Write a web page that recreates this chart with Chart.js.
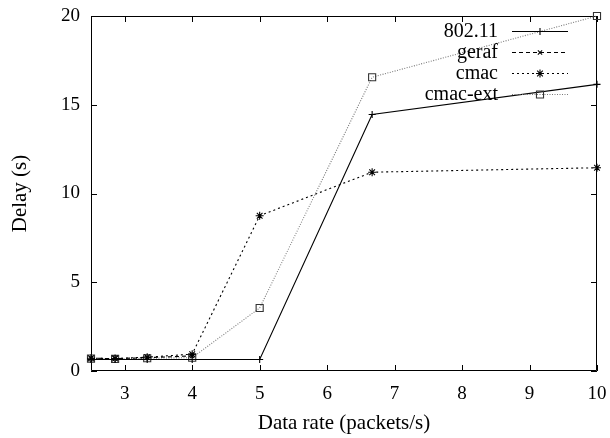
<!DOCTYPE html>
<html>
<head>
<meta charset="utf-8">
<script src="https://cdn.jsdelivr.net/npm/chart.js@4/dist/chart.umd.min.js"></script>
<style>
  html, body { margin: 0; padding: 0; background: #fff; }
</style>
</head>
<body>
<canvas id="c" width="610" height="438"></canvas>
<script>
// Offered load (packets/s) and measured delay (s) per MAC protocol
const dataRates    = [2.5, 2.857, 3.333, 4, 5, 6.667, 10];
const delay80211   = [0.65, 0.65, 0.65, 0.65, 0.65, 14.45, 16.15];
const delayGeraf   = [0.72, 0.7, 0.75, 0.85, null, null, null];
const delayCmac    = [0.72, 0.7, 0.78, 0.95, 8.75, 11.2, 11.45];
const delayCmacExt = [0.7, 0.68, 0.72, 0.75, 3.55, 16.55, 20.0];
const seriesNames  = ['802.11', 'geraf', 'cmac', 'cmac-ext'];
const xTicks = [3, 4, 5, 6, 7, 8, 9, 10];
const yTicks = [0, 5, 10, 15, 20];

const SERIF = '"Liberation Serif", "DejaVu Serif", serif';

function toPoints(values) {
  return values.map((v, i) => ({ x: dataRates[i], y: v }));
}

// Plot frame with inward ticks on all four sides
const framePlugin = {
  id: 'frame',
  beforeDatasetsDraw(chart) {
    const { ctx, chartArea: a, scales: { x, y } } = chart;
    const len = 6;
    ctx.save();
    ctx.strokeStyle = '#000';
    ctx.lineWidth = 1;
    ctx.beginPath();
    ctx.rect(a.left + 0.5, a.top + 0.5, a.right - a.left - 1, a.bottom - a.top - 1);
    xTicks.forEach(v => {
      const px = Math.round(x.getPixelForValue(v)) + 0.5;
      ctx.moveTo(px, a.bottom); ctx.lineTo(px, a.bottom - len);
      ctx.moveTo(px, a.top); ctx.lineTo(px, a.top + len);
    });
    yTicks.forEach(v => {
      const py = Math.round(y.getPixelForValue(v)) + 0.5;
      ctx.moveTo(a.left, py); ctx.lineTo(a.left + len, py);
      ctx.moveTo(a.right, py); ctx.lineTo(a.right - len, py);
    });
    ctx.stroke();
    ctx.restore();
  }
};

// Key in the upper right: right-aligned name, then a line sample with its marker
const keyPlugin = {
  id: 'key',
  afterDraw(chart) {
    const { ctx } = chart;
    const textRight = 498, lineStart = 512, lineEnd = 568, rowTop = 31, rowGap = 21;
    ctx.save();
    chart.data.datasets.forEach((ds, i) => {
      const yy = rowTop + i * rowGap;
      ctx.font = '20px ' + SERIF;
      ctx.fillStyle = '#000';
      ctx.textAlign = 'right';
      ctx.textBaseline = 'middle';
      ctx.fillText(ds.label, textRight, yy + 1);
      ctx.strokeStyle = ds.borderColor;
      ctx.lineWidth = ds.borderWidth;
      ctx.setLineDash(ds.borderDash || []);
      ctx.beginPath();
      ctx.moveTo(lineStart, yy + 0.5);
      ctx.lineTo(lineEnd, yy + 0.5);
      ctx.stroke();
      ctx.setLineDash([]);
      ctx.fillStyle = ds.pointBackgroundColor;
      ctx.strokeStyle = ds.pointBorderColor;
      ctx.lineWidth = ds.pointBorderWidth;
      Chart.helpers.drawPoint(ctx, { pointStyle: ds.pointStyle, radius: ds.pointRadius, rotation: 0, borderWidth: ds.pointBorderWidth }, (lineStart + lineEnd) / 2, yy + 0.5);
    });
    ctx.restore();
  }
};

function series(label, values, color, markColor, dash, style, radius) {
  return {
    label,
    data: toPoints(values),
    borderColor: color,
    borderWidth: 1.1,
    borderDash: dash,
    pointStyle: style,
    pointRadius: radius,
    pointBorderColor: markColor,
    pointBackgroundColor: 'rgba(0,0,0,0)',
    pointBorderWidth: 1.1,
    tension: 0,
    fill: false,
    spanGaps: false,
    clip: false
  };
}

// Drop the automatic edge padding so the plot box sits exactly inside the layout padding
function noEdgePadding(scale) {
  scale.paddingLeft = 0; scale.paddingRight = 0;
  scale.paddingTop = 0; scale.paddingBottom = 0;
}

new Chart(document.getElementById('c'), {
  type: 'line',
  data: {
    datasets: [
      series(seriesNames[0], delay80211, '#000', '#000', [], 'cross', 3.5),
      series(seriesNames[1], delayGeraf, '#000', '#000', [4, 3], 'crossRot', 3),
      series(seriesNames[2], delayCmac, '#000', '#000', [2, 3], 'star', 4),
      series(seriesNames[3], delayCmacExt, '#7a7a7a', '#333', [1, 1.5], 'rect', 5)
    ]
  },
  options: {
    responsive: false,
    animation: false,
    layout: { padding: { left: 0, right: 13, top: 16, bottom: 0 } },
    plugins: { legend: { display: false }, tooltip: { enabled: false } },
    scales: {
      x: {
        type: 'linear',
        min: 2.5,
        max: 10,
        grid: { display: false, drawTicks: false },
        border: { display: false },
        afterBuildTicks(scale) { scale.ticks = xTicks.map(v => ({ value: v })); },
        afterFit(scale) { scale.height = 67; noEdgePadding(scale); },
        ticks: { color: '#000', font: { family: SERIF, size: 19 }, padding: 12, maxRotation: 0 },
        title: { display: true, text: 'Data rate (packets/s)', color: '#000', font: { family: SERIF, size: 21 }, padding: { top: 0, bottom: 2 } }
      },
      y: {
        min: 0,
        max: 20,
        grid: { display: false, drawTicks: false },
        border: { display: false },
        afterBuildTicks(scale) { scale.ticks = yTicks.map(v => ({ value: v })); },
        afterFit(scale) { scale.width = 91; noEdgePadding(scale); },
        ticks: { color: '#000', font: { family: SERIF, size: 19 }, padding: 11 },
        title: { display: true, text: 'Delay (s)', color: '#000', font: { family: SERIF, size: 21 }, padding: { top: 8, bottom: 0 } }
      }
    }
  },
  plugins: [framePlugin, keyPlugin]
});
</script>
</body>
</html>
